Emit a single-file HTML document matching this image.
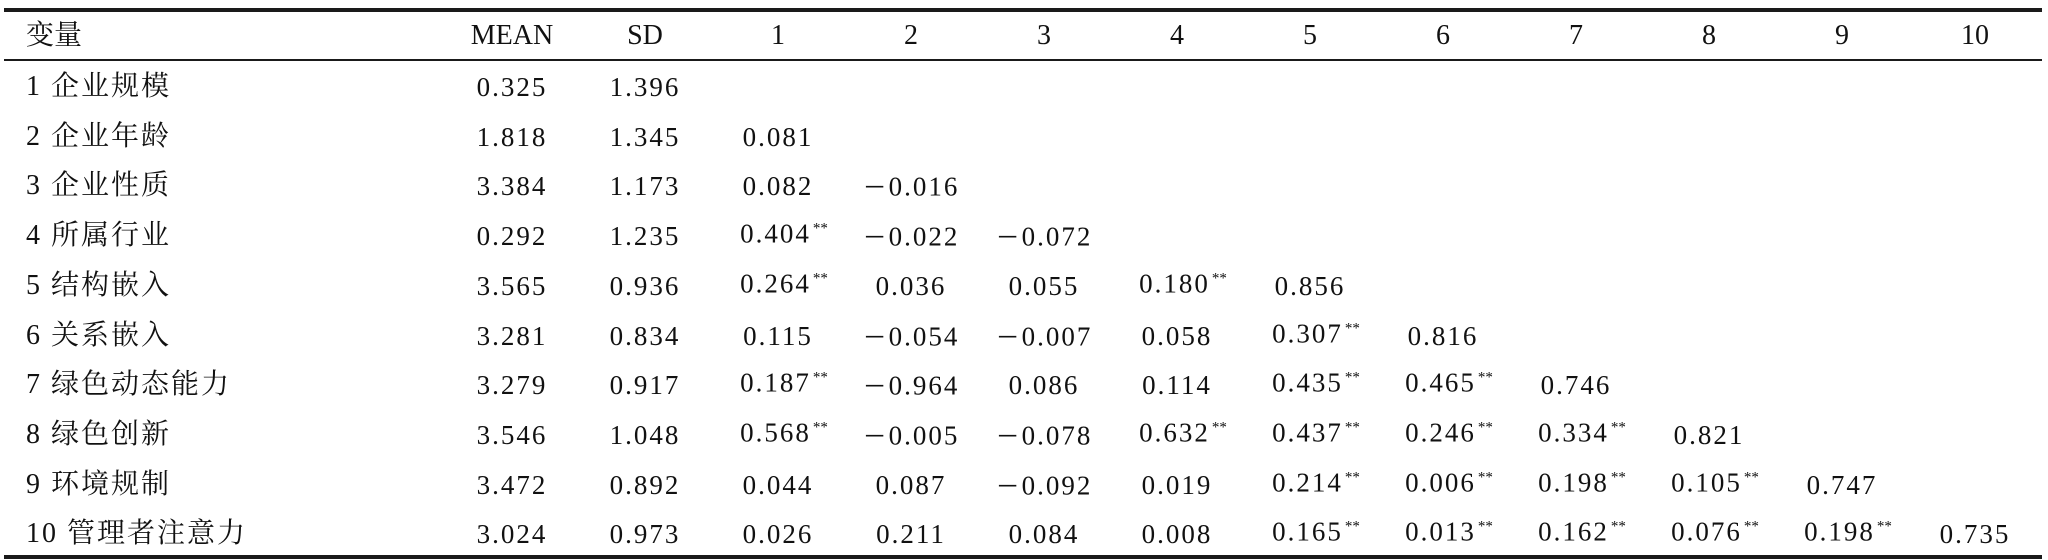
<!DOCTYPE html>
<html><head><meta charset="utf-8">
<style>
html,body{margin:0;padding:0;background:#fff;}
#t{position:relative;width:2048px;height:560px;overflow:hidden;font-family:"Liberation Serif","Noto Serif CJK SC",serif;color:#111;}
.rule{position:absolute;left:4px;width:2038px;background:#1a1a1a;}
.c{position:absolute;white-space:nowrap;font-size:27px;line-height:30px;transform:translate(-50%,-50%);letter-spacing:2px;}
.l{position:absolute;white-space:nowrap;font-size:28px;line-height:30px;transform:translateY(-50%);letter-spacing:2px;}
.h{letter-spacing:0;font-size:28px;}
sup{font-size:15px;letter-spacing:0;vertical-align:0;position:relative;top:-10px;margin-left:2px;}
.m{font-family:"Noto Sans CJK SC",sans-serif;font-size:24px;}
</style></head><body>
<div id="t">
<div class="rule" style="top:8px;height:4px"></div>
<div class="rule" style="top:59px;height:2px"></div>
<div class="rule" style="top:555px;height:4px"></div>
</div>
<script>
const headers=["MEAN","SD","1","2","3","4","5","6","7","8","9","10"];
const labels=["1 企业规模","2 企业年龄","3 企业性质","4 所属行业","5 结构嵌入","6 关系嵌入","7 绿色动态能力","8 绿色创新","9 环境规制","10 管理者注意力"];
const means=["0.325","1.818","3.384","0.292","3.565","3.281","3.279","3.546","3.472","3.024"];
const sds=["1.396","1.345","1.173","1.235","0.936","0.834","0.917","1.048","0.892","0.973"];
const corr=[
[],
["0.081"],
["0.082","-0.016"],
["0.404**","-0.022","-0.072"],
["0.264**","0.036","0.055","0.180**","0.856"],
["0.115","-0.054","-0.007","0.058","0.307**","0.816"],
["0.187**","-0.964","0.086","0.114","0.435**","0.465**","0.746"],
["0.568**","-0.005","-0.078","0.632**","0.437**","0.246**","0.334**","0.821"],
["0.044","0.087","-0.092","0.019","0.214**","0.006**","0.198**","0.105**","0.747"],
["0.026","0.211","0.084","0.008","0.165**","0.013**","0.162**","0.076**","0.198**","0.735"]
];
const t=document.getElementById('t');
const colX=i=>512+i*133;
const rowY=r=>87+r*49.7;
function fmt(v){
  let s=v.replace('**','');
  let h=s.startsWith('-')?'<span class="m">－</span>'+s.slice(1):s;
  if(v.endsWith('**'))h+='<sup>**</sup>';
  return h;
}
function cell(x,y,html,name,cls){
  const d=document.createElement('div');
  d.className=cls||'c';
  d.style.left=x+'px';d.style.top=y+'px';
  d.innerHTML=html;
  
  
  t.appendChild(d);
}
cell(26,36,'变量','header-variable','l h');
headers.forEach((h,i)=>cell(colX(i),36,h,'header-'+h.toLowerCase(),'c h'));
labels.forEach((lb,r)=>{
  const y=rowY(r);
  cell(26,y,lb,'row-label-'+(r+1),'l');
  cell(colX(0),y,fmt(means[r]),'mean-'+(r+1));
  cell(colX(1),y,fmt(sds[r]),'sd-'+(r+1));
  corr[r].forEach((v,c)=>cell(colX(c+2)+(v.endsWith('**')?6:0),y,fmt(v),'corr-'+(r+1)+'-'+(c+1)));
});
</script>
</body></html>
